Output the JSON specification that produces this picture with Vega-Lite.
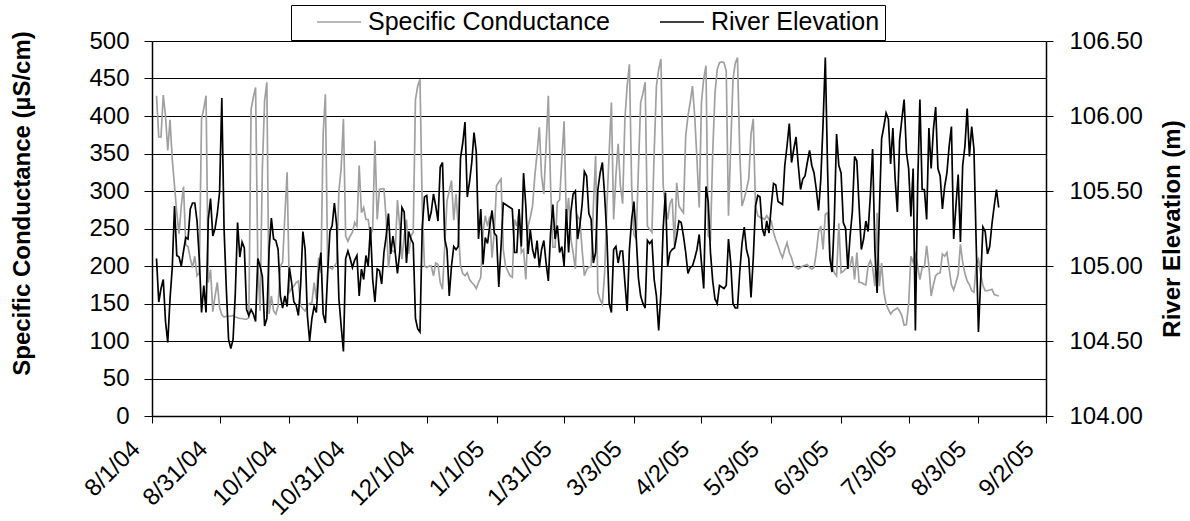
{
  "$schema": "https://vega.github.io/schema/vega-lite/v6.json",
  "width": 894,
  "height": 375,
  "autosize": {"type": "none"},
  "padding": {"left": 152, "top": 41, "right": 144, "bottom": 105},
  "background": "#ffffff",
  "config": {
    "font": "Liberation Sans",
    "view": {"stroke": null},
    "axis": {
      "labelFont": "Liberation Sans",
      "labelFontSize": 24,
      "labelColor": "#000000",
      "titleFont": "Liberation Sans",
      "titleFontSize": 24,
      "titleFontWeight": "bold",
      "titleColor": "#000000",
      "domainColor": "#000000",
      "domainWidth": 1.5,
      "tickColor": "#000000",
      "tickWidth": 1,
      "labelFlush": false,
      "labelOverlap": false
    },
    "legend": {"labelFont": "Liberation Sans"}
  },
  "data": {
    "values": [
      {"d": "2004-08-03", "c": 427, "e": 105.05},
      {"d": "2004-08-04", "c": 372, "e": 104.76},
      {"d": "2004-08-05", "c": 372, "e": 104.85},
      {"d": "2004-08-06", "c": 428, "e": 104.91},
      {"d": "2004-08-07", "c": 400, "e": 104.63},
      {"d": "2004-08-08", "c": 354, "e": 104.49},
      {"d": "2004-08-09", "c": 395, "e": 104.78},
      {"d": "2004-08-10", "c": 342, "e": 104.99},
      {"d": "2004-08-11", "c": 307, "e": 105.40},
      {"d": "2004-08-12", "c": 271, "e": 105.07},
      {"d": "2004-08-13", "c": 243, "e": 105.06},
      {"d": "2004-08-14", "c": 280, "e": 105.00},
      {"d": "2004-08-15", "c": 306, "e": 105.10},
      {"d": "2004-08-16", "c": 228, "e": 105.19},
      {"d": "2004-08-17", "c": 226, "e": 105.18},
      {"d": "2004-08-18", "c": 210, "e": 105.38},
      {"d": "2004-08-19", "c": 198, "e": 105.42},
      {"d": "2004-08-20", "c": 213, "e": 105.42},
      {"d": "2004-08-21", "c": 187, "e": 105.30},
      {"d": "2004-08-22", "c": 191, "e": 105.05},
      {"d": "2004-08-23", "c": 396, "e": 104.69},
      {"d": "2004-08-24", "c": 410, "e": 104.87},
      {"d": "2004-08-25", "c": 427, "e": 104.69},
      {"d": "2004-08-26", "c": 178, "e": 105.31},
      {"d": "2004-08-27", "c": 195, "e": 105.45},
      {"d": "2004-08-28", "c": 139, "e": 105.20},
      {"d": "2004-08-29", "c": 160, "e": 105.25},
      {"d": "2004-08-30", "c": 178, "e": 105.35},
      {"d": "2004-08-31", "c": 145, "e": 105.49},
      {"d": "2004-09-01", "c": 135, "e": 106.12},
      {"d": "2004-09-02", "c": 132, "e": 105.25},
      {"d": "2004-09-03", "c": 133, "e": 104.85},
      {"d": "2004-09-04", "c": 133, "e": 104.51},
      {"d": "2004-09-05", "c": 133, "e": 104.45},
      {"d": "2004-09-06", "c": 134, "e": 104.51},
      {"d": "2004-09-07", "c": 132, "e": 104.82},
      {"d": "2004-09-08", "c": 131, "e": 105.29},
      {"d": "2004-09-09", "c": 130, "e": 105.06},
      {"d": "2004-09-10", "c": 130, "e": 105.16},
      {"d": "2004-09-11", "c": 129, "e": 105.12},
      {"d": "2004-09-12", "c": 129, "e": 104.71},
      {"d": "2004-09-13", "c": 131, "e": 104.67},
      {"d": "2004-09-14", "c": 409, "e": 104.71},
      {"d": "2004-09-15", "c": 425, "e": 104.68},
      {"d": "2004-09-16", "c": 438, "e": 104.63},
      {"d": "2004-09-17", "c": 200, "e": 105.05},
      {"d": "2004-09-18", "c": 140, "e": 105.00},
      {"d": "2004-09-19", "c": 330, "e": 104.93},
      {"d": "2004-09-20", "c": 420, "e": 104.60},
      {"d": "2004-09-21", "c": 445, "e": 104.65},
      {"d": "2004-09-22", "c": 136, "e": 105.11},
      {"d": "2004-09-23", "c": 160, "e": 105.32},
      {"d": "2004-09-24", "c": 140, "e": 105.18},
      {"d": "2004-09-25", "c": 136, "e": 105.17},
      {"d": "2004-09-26", "c": 147, "e": 105.11},
      {"d": "2004-09-27", "c": 200, "e": 104.80},
      {"d": "2004-09-28", "c": 205, "e": 104.72},
      {"d": "2004-09-29", "c": 267, "e": 104.80},
      {"d": "2004-09-30", "c": 325, "e": 104.73},
      {"d": "2004-10-01", "c": 165, "e": 104.99},
      {"d": "2004-10-02", "c": 170, "e": 104.89},
      {"d": "2004-10-03", "c": 173, "e": 104.76},
      {"d": "2004-10-04", "c": 178, "e": 104.74},
      {"d": "2004-10-05", "c": 180, "e": 104.67},
      {"d": "2004-10-06", "c": 147, "e": 104.87},
      {"d": "2004-10-07", "c": 143, "e": 105.23},
      {"d": "2004-10-08", "c": 140, "e": 105.11},
      {"d": "2004-10-09", "c": 147, "e": 104.67},
      {"d": "2004-10-10", "c": 150, "e": 104.50},
      {"d": "2004-10-11", "c": 151, "e": 104.65},
      {"d": "2004-10-12", "c": 178, "e": 104.73},
      {"d": "2004-10-13", "c": 156, "e": 104.69},
      {"d": "2004-10-14", "c": 211, "e": 104.96},
      {"d": "2004-10-15", "c": 191, "e": 105.09},
      {"d": "2004-10-16", "c": 376, "e": 104.68},
      {"d": "2004-10-17", "c": 429, "e": 104.62},
      {"d": "2004-10-18", "c": 200, "e": 104.95},
      {"d": "2004-10-19", "c": 198, "e": 105.23},
      {"d": "2004-10-20", "c": 196, "e": 105.27},
      {"d": "2004-10-21", "c": 200, "e": 105.42},
      {"d": "2004-10-22", "c": 204, "e": 105.27},
      {"d": "2004-10-23", "c": 300, "e": 104.78},
      {"d": "2004-10-24", "c": 330, "e": 104.60},
      {"d": "2004-10-25", "c": 396, "e": 104.43},
      {"d": "2004-10-26", "c": 240, "e": 105.05},
      {"d": "2004-10-27", "c": 233, "e": 105.10},
      {"d": "2004-10-28", "c": 240, "e": 105.05},
      {"d": "2004-10-29", "c": 245, "e": 104.99},
      {"d": "2004-10-30", "c": 258, "e": 105.04},
      {"d": "2004-10-31", "c": 253, "e": 105.07},
      {"d": "2004-11-01", "c": 334, "e": 104.80},
      {"d": "2004-11-02", "c": 271, "e": 104.98},
      {"d": "2004-11-03", "c": 278, "e": 104.91},
      {"d": "2004-11-04", "c": 262, "e": 105.07},
      {"d": "2004-11-05", "c": 262, "e": 105.00},
      {"d": "2004-11-06", "c": 240, "e": 105.26},
      {"d": "2004-11-07", "c": 250, "e": 104.91},
      {"d": "2004-11-08", "c": 367, "e": 104.76},
      {"d": "2004-11-09", "c": 262, "e": 104.98},
      {"d": "2004-11-10", "c": 302, "e": 104.97},
      {"d": "2004-11-11", "c": 303, "e": 104.88},
      {"d": "2004-11-12", "c": 303, "e": 105.09},
      {"d": "2004-11-13", "c": 262, "e": 105.20},
      {"d": "2004-11-14", "c": 198, "e": 105.35},
      {"d": "2004-11-15", "c": 222, "e": 105.08},
      {"d": "2004-11-16", "c": 220, "e": 105.20},
      {"d": "2004-11-17", "c": 218, "e": 105.09},
      {"d": "2004-11-18", "c": 288, "e": 104.95},
      {"d": "2004-11-19", "c": 253, "e": 105.09},
      {"d": "2004-11-20", "c": 209, "e": 105.39},
      {"d": "2004-11-21", "c": 240, "e": 105.36},
      {"d": "2004-11-22", "c": 262, "e": 105.02},
      {"d": "2004-11-23", "c": 216, "e": 105.23},
      {"d": "2004-11-24", "c": 240, "e": 105.18},
      {"d": "2004-11-25", "c": 245, "e": 105.15},
      {"d": "2004-11-26", "c": 422, "e": 104.65},
      {"d": "2004-11-27", "c": 440, "e": 104.58},
      {"d": "2004-11-28", "c": 449, "e": 104.56},
      {"d": "2004-11-29", "c": 280, "e": 105.26},
      {"d": "2004-11-30", "c": 200, "e": 105.46},
      {"d": "2004-12-01", "c": 198, "e": 105.47},
      {"d": "2004-12-02", "c": 200, "e": 105.30},
      {"d": "2004-12-03", "c": 200, "e": 105.36},
      {"d": "2004-12-04", "c": 187, "e": 105.48},
      {"d": "2004-12-05", "c": 204, "e": 105.40},
      {"d": "2004-12-06", "c": 202, "e": 105.30},
      {"d": "2004-12-07", "c": 178, "e": 105.66},
      {"d": "2004-12-08", "c": 169, "e": 105.69},
      {"d": "2004-12-09", "c": 227, "e": 105.18},
      {"d": "2004-12-10", "c": 287, "e": 105.11},
      {"d": "2004-12-11", "c": 300, "e": 104.80},
      {"d": "2004-12-12", "c": 314, "e": 105.00},
      {"d": "2004-12-13", "c": 261, "e": 105.13},
      {"d": "2004-12-14", "c": 296, "e": 105.11},
      {"d": "2004-12-15", "c": 253, "e": 105.13},
      {"d": "2004-12-16", "c": 200, "e": 105.72},
      {"d": "2004-12-17", "c": 190, "e": 105.82},
      {"d": "2004-12-18", "c": 187, "e": 105.96},
      {"d": "2004-12-19", "c": 191, "e": 105.46},
      {"d": "2004-12-20", "c": 182, "e": 105.56},
      {"d": "2004-12-21", "c": 178, "e": 105.69},
      {"d": "2004-12-22", "c": 175, "e": 105.89},
      {"d": "2004-12-23", "c": 170, "e": 105.76},
      {"d": "2004-12-24", "c": 178, "e": 105.18},
      {"d": "2004-12-25", "c": 185, "e": 105.38},
      {"d": "2004-12-26", "c": 245, "e": 105.01},
      {"d": "2004-12-27", "c": 267, "e": 105.19},
      {"d": "2004-12-28", "c": 253, "e": 105.15},
      {"d": "2004-12-29", "c": 266, "e": 105.27},
      {"d": "2004-12-30", "c": 211, "e": 105.37},
      {"d": "2004-12-31", "c": 245, "e": 105.22},
      {"d": "2005-01-01", "c": 307, "e": 105.20},
      {"d": "2005-01-02", "c": 312, "e": 104.86},
      {"d": "2005-01-03", "c": 316, "e": 105.13},
      {"d": "2005-01-04", "c": 222, "e": 105.42},
      {"d": "2005-01-05", "c": 200, "e": 105.41},
      {"d": "2005-01-06", "c": 193, "e": 105.40},
      {"d": "2005-01-07", "c": 187, "e": 105.39},
      {"d": "2005-01-08", "c": 185, "e": 105.38},
      {"d": "2005-01-09", "c": 262, "e": 105.09},
      {"d": "2005-01-10", "c": 253, "e": 105.09},
      {"d": "2005-01-11", "c": 273, "e": 105.38},
      {"d": "2005-01-12", "c": 218, "e": 105.13},
      {"d": "2005-01-13", "c": 222, "e": 105.62},
      {"d": "2005-01-14", "c": 182, "e": 105.40},
      {"d": "2005-01-15", "c": 253, "e": 105.08},
      {"d": "2005-01-16", "c": 265, "e": 105.24},
      {"d": "2005-01-17", "c": 280, "e": 105.11},
      {"d": "2005-01-18", "c": 320, "e": 105.05},
      {"d": "2005-01-19", "c": 350, "e": 105.17},
      {"d": "2005-01-20", "c": 385, "e": 104.99},
      {"d": "2005-01-21", "c": 320, "e": 105.11},
      {"d": "2005-01-22", "c": 296, "e": 105.17},
      {"d": "2005-01-23", "c": 360, "e": 105.02},
      {"d": "2005-01-24", "c": 427, "e": 104.90},
      {"d": "2005-01-25", "c": 307, "e": 105.22},
      {"d": "2005-01-26", "c": 225, "e": 105.41},
      {"d": "2005-01-27", "c": 225, "e": 105.18},
      {"d": "2005-01-28", "c": 285, "e": 105.27},
      {"d": "2005-01-29", "c": 288, "e": 105.09},
      {"d": "2005-01-30", "c": 342, "e": 105.13},
      {"d": "2005-01-31", "c": 393, "e": 105.00},
      {"d": "2005-02-01", "c": 262, "e": 105.38},
      {"d": "2005-02-02", "c": 291, "e": 105.09},
      {"d": "2005-02-03", "c": 236, "e": 105.36},
      {"d": "2005-02-04", "c": 218, "e": 105.48},
      {"d": "2005-02-05", "c": 196, "e": 105.50},
      {"d": "2005-02-06", "c": 267, "e": 105.18},
      {"d": "2005-02-07", "c": 262, "e": 105.27},
      {"d": "2005-02-08", "c": 222, "e": 105.41},
      {"d": "2005-02-09", "c": 187, "e": 105.63},
      {"d": "2005-02-10", "c": 195, "e": 105.60},
      {"d": "2005-02-11", "c": 199, "e": 105.35},
      {"d": "2005-02-12", "c": 199, "e": 105.31},
      {"d": "2005-02-13", "c": 280, "e": 105.02},
      {"d": "2005-02-14", "c": 347, "e": 105.09},
      {"d": "2005-02-15", "c": 165, "e": 105.51},
      {"d": "2005-02-16", "c": 155, "e": 105.62},
      {"d": "2005-02-17", "c": 149, "e": 105.69},
      {"d": "2005-02-18", "c": 191, "e": 105.47},
      {"d": "2005-02-19", "c": 280, "e": 105.20},
      {"d": "2005-02-20", "c": 350, "e": 104.75},
      {"d": "2005-02-21", "c": 418, "e": 104.69},
      {"d": "2005-02-22", "c": 262, "e": 105.11},
      {"d": "2005-02-23", "c": 320, "e": 105.13},
      {"d": "2005-02-24", "c": 363, "e": 105.02},
      {"d": "2005-02-25", "c": 307, "e": 105.10},
      {"d": "2005-02-26", "c": 283, "e": 105.10},
      {"d": "2005-02-27", "c": 396, "e": 104.89},
      {"d": "2005-02-28", "c": 440, "e": 104.70},
      {"d": "2005-03-01", "c": 469, "e": 105.11},
      {"d": "2005-03-02", "c": 307, "e": 105.31},
      {"d": "2005-03-03", "c": 242, "e": 105.43},
      {"d": "2005-03-04", "c": 236, "e": 105.20},
      {"d": "2005-03-05", "c": 329, "e": 104.92},
      {"d": "2005-03-06", "c": 418, "e": 104.80},
      {"d": "2005-03-07", "c": 430, "e": 104.75},
      {"d": "2005-03-08", "c": 445, "e": 104.72},
      {"d": "2005-03-09", "c": 253, "e": 105.17},
      {"d": "2005-03-10", "c": 249, "e": 105.15},
      {"d": "2005-03-11", "c": 245, "e": 105.17},
      {"d": "2005-03-12", "c": 351, "e": 104.91},
      {"d": "2005-03-13", "c": 440, "e": 104.80},
      {"d": "2005-03-14", "c": 462, "e": 104.57},
      {"d": "2005-03-15", "c": 476, "e": 104.82},
      {"d": "2005-03-16", "c": 307, "e": 105.25},
      {"d": "2005-03-17", "c": 280, "e": 105.49},
      {"d": "2005-03-18", "c": 262, "e": 105.00},
      {"d": "2005-03-19", "c": 283, "e": 105.09},
      {"d": "2005-03-20", "c": 290, "e": 105.11},
      {"d": "2005-03-21", "c": 227, "e": 105.12},
      {"d": "2005-03-22", "c": 311, "e": 105.20},
      {"d": "2005-03-23", "c": 280, "e": 105.30},
      {"d": "2005-03-24", "c": 275, "e": 105.29},
      {"d": "2005-03-25", "c": 271, "e": 105.20},
      {"d": "2005-03-26", "c": 373, "e": 105.09},
      {"d": "2005-03-27", "c": 400, "e": 104.95},
      {"d": "2005-03-28", "c": 418, "e": 104.99},
      {"d": "2005-03-29", "c": 440, "e": 105.00},
      {"d": "2005-03-30", "c": 400, "e": 105.05},
      {"d": "2005-03-31", "c": 342, "e": 105.11},
      {"d": "2005-04-01", "c": 278, "e": 105.21},
      {"d": "2005-04-02", "c": 418, "e": 105.02},
      {"d": "2005-04-03", "c": 450, "e": 104.85},
      {"d": "2005-04-04", "c": 467, "e": 105.53},
      {"d": "2005-04-05", "c": 240, "e": 105.43},
      {"d": "2005-04-06", "c": 236, "e": 105.09},
      {"d": "2005-04-07", "c": 351, "e": 104.90},
      {"d": "2005-04-08", "c": 430, "e": 104.78},
      {"d": "2005-04-09", "c": 462, "e": 104.75},
      {"d": "2005-04-10", "c": 471, "e": 104.87},
      {"d": "2005-04-11", "c": 472, "e": 104.86},
      {"d": "2005-04-12", "c": 471, "e": 104.85},
      {"d": "2005-04-13", "c": 460, "e": 104.87},
      {"d": "2005-04-14", "c": 267, "e": 105.18},
      {"d": "2005-04-15", "c": 360, "e": 105.02},
      {"d": "2005-04-16", "c": 449, "e": 104.75},
      {"d": "2005-04-17", "c": 470, "e": 104.72},
      {"d": "2005-04-18", "c": 478, "e": 104.72},
      {"d": "2005-04-19", "c": 351, "e": 104.96},
      {"d": "2005-04-20", "c": 280, "e": 105.15},
      {"d": "2005-04-21", "c": 290, "e": 105.26},
      {"d": "2005-04-22", "c": 302, "e": 105.11},
      {"d": "2005-04-23", "c": 316, "e": 105.05},
      {"d": "2005-04-24", "c": 376, "e": 104.79},
      {"d": "2005-04-25", "c": 396, "e": 105.05},
      {"d": "2005-04-26", "c": 280, "e": 105.40},
      {"d": "2005-04-27", "c": 267, "e": 105.47},
      {"d": "2005-04-28", "c": 265, "e": 105.46},
      {"d": "2005-04-29", "c": 264, "e": 105.25},
      {"d": "2005-04-30", "c": 262, "e": 105.20},
      {"d": "2005-05-01", "c": 267, "e": 105.30},
      {"d": "2005-05-02", "c": 262, "e": 105.22},
      {"d": "2005-05-03", "c": 260, "e": 105.40},
      {"d": "2005-05-04", "c": 245, "e": 105.55},
      {"d": "2005-05-05", "c": 235, "e": 105.54},
      {"d": "2005-05-06", "c": 227, "e": 105.43},
      {"d": "2005-05-07", "c": 218, "e": 105.42},
      {"d": "2005-05-08", "c": 211, "e": 105.41},
      {"d": "2005-05-09", "c": 222, "e": 105.67},
      {"d": "2005-05-10", "c": 231, "e": 105.80},
      {"d": "2005-05-11", "c": 218, "e": 105.95},
      {"d": "2005-05-12", "c": 211, "e": 105.69},
      {"d": "2005-05-13", "c": 200, "e": 105.78},
      {"d": "2005-05-14", "c": 198, "e": 105.86},
      {"d": "2005-05-15", "c": 196, "e": 105.67},
      {"d": "2005-05-16", "c": 198, "e": 105.51},
      {"d": "2005-05-17", "c": 200, "e": 105.58},
      {"d": "2005-05-18", "c": 201, "e": 105.60},
      {"d": "2005-05-19", "c": 202, "e": 105.69},
      {"d": "2005-05-20", "c": 198, "e": 105.77},
      {"d": "2005-05-21", "c": 196, "e": 105.67},
      {"d": "2005-05-22", "c": 198, "e": 105.62},
      {"d": "2005-05-23", "c": 218, "e": 105.51},
      {"d": "2005-05-24", "c": 245, "e": 105.37},
      {"d": "2005-05-25", "c": 253, "e": 105.58},
      {"d": "2005-05-26", "c": 222, "e": 105.95},
      {"d": "2005-05-27", "c": 269, "e": 106.39},
      {"d": "2005-05-28", "c": 271, "e": 105.65},
      {"d": "2005-05-29", "c": 218, "e": 105.05},
      {"d": "2005-05-30", "c": 200, "e": 104.96},
      {"d": "2005-05-31", "c": 191, "e": 105.31},
      {"d": "2005-06-01", "c": 187, "e": 105.88},
      {"d": "2005-06-02", "c": 257, "e": 105.67},
      {"d": "2005-06-03", "c": 191, "e": 105.62},
      {"d": "2005-06-04", "c": 193, "e": 105.29},
      {"d": "2005-06-05", "c": 196, "e": 105.25},
      {"d": "2005-06-06", "c": 198, "e": 104.98},
      {"d": "2005-06-07", "c": 200, "e": 105.20},
      {"d": "2005-06-08", "c": 213, "e": 105.36},
      {"d": "2005-06-09", "c": 182, "e": 105.73},
      {"d": "2005-06-10", "c": 218, "e": 105.70},
      {"d": "2005-06-11", "c": 178, "e": 105.40},
      {"d": "2005-06-12", "c": 178, "e": 105.11},
      {"d": "2005-06-13", "c": 176, "e": 105.18},
      {"d": "2005-06-14", "c": 175, "e": 105.30},
      {"d": "2005-06-15", "c": 200, "e": 105.23},
      {"d": "2005-06-16", "c": 207, "e": 105.47},
      {"d": "2005-06-17", "c": 198, "e": 105.78},
      {"d": "2005-06-18", "c": 173, "e": 105.11},
      {"d": "2005-06-19", "c": 271, "e": 104.82},
      {"d": "2005-06-20", "c": 173, "e": 105.36},
      {"d": "2005-06-21", "c": 204, "e": 105.85},
      {"d": "2005-06-22", "c": 165, "e": 105.93},
      {"d": "2005-06-23", "c": 149, "e": 106.02},
      {"d": "2005-06-24", "c": 142, "e": 105.98},
      {"d": "2005-06-25", "c": 136, "e": 105.68},
      {"d": "2005-06-26", "c": 140, "e": 105.92},
      {"d": "2005-06-27", "c": 142, "e": 105.58},
      {"d": "2005-06-28", "c": 144, "e": 105.36},
      {"d": "2005-06-29", "c": 140, "e": 105.84},
      {"d": "2005-06-30", "c": 134, "e": 105.98},
      {"d": "2005-07-01", "c": 121, "e": 106.11},
      {"d": "2005-07-02", "c": 122, "e": 105.76},
      {"d": "2005-07-03", "c": 149, "e": 105.65},
      {"d": "2005-07-04", "c": 213, "e": 105.33},
      {"d": "2005-07-05", "c": 205, "e": 105.65},
      {"d": "2005-07-06", "c": 218, "e": 104.57},
      {"d": "2005-07-07", "c": 200, "e": 105.53},
      {"d": "2005-07-08", "c": 182, "e": 106.11},
      {"d": "2005-07-09", "c": 198, "e": 105.51},
      {"d": "2005-07-10", "c": 198, "e": 105.51},
      {"d": "2005-07-11", "c": 227, "e": 105.31},
      {"d": "2005-07-12", "c": 200, "e": 105.92},
      {"d": "2005-07-13", "c": 160, "e": 105.65},
      {"d": "2005-07-14", "c": 175, "e": 105.91},
      {"d": "2005-07-15", "c": 187, "e": 106.06},
      {"d": "2005-07-16", "c": 190, "e": 105.65},
      {"d": "2005-07-17", "c": 191, "e": 105.60},
      {"d": "2005-07-18", "c": 216, "e": 105.38},
      {"d": "2005-07-19", "c": 213, "e": 105.53},
      {"d": "2005-07-20", "c": 218, "e": 105.62},
      {"d": "2005-07-21", "c": 196, "e": 105.80},
      {"d": "2005-07-22", "c": 175, "e": 105.93},
      {"d": "2005-07-23", "c": 168, "e": 105.18},
      {"d": "2005-07-24", "c": 178, "e": 105.40},
      {"d": "2005-07-25", "c": 189, "e": 105.61},
      {"d": "2005-07-26", "c": 229, "e": 105.16},
      {"d": "2005-07-27", "c": 205, "e": 105.67},
      {"d": "2005-07-28", "c": 190, "e": 105.80},
      {"d": "2005-07-29", "c": 180, "e": 106.05},
      {"d": "2005-07-30", "c": 175, "e": 105.73},
      {"d": "2005-07-31", "c": 167, "e": 105.93},
      {"d": "2005-08-01", "c": 165, "e": 105.78},
      {"d": "2005-08-02", "c": 202, "e": 105.15},
      {"d": "2005-08-03", "c": 209, "e": 104.56},
      {"d": "2005-08-04", "c": 189, "e": 104.91},
      {"d": "2005-08-05", "c": 174, "e": 105.26},
      {"d": "2005-08-06", "c": 167, "e": 105.23},
      {"d": "2005-08-07", "c": 167, "e": 105.08},
      {"d": "2005-08-08", "c": 168, "e": 105.13},
      {"d": "2005-08-09", "c": 169, "e": 105.28},
      {"d": "2005-08-10", "c": 162, "e": 105.40},
      {"d": "2005-08-11", "c": 161, "e": 105.51},
      {"d": "2005-08-12", "c": 160, "e": 105.39}
    ]
  },
  "encoding": {
    "x": {
      "field": "d",
      "type": "temporal",
      "scale": {
        "type": "utc",
        "domain": [
          {"year": 2004, "month": 8, "date": 1, "utc": true},
          {"year": 2005, "month": 9, "date": 2, "utc": true}
        ]
      },
      "axis": {
        "title": null,
        "grid": false,
        "format": "%-m/%-d/%y",
        "values": [
          {"year": 2004, "month": 8, "date": 1, "utc": true},
          {"year": 2004, "month": 8, "date": 31, "utc": true},
          {"year": 2004, "month": 10, "date": 1, "utc": true},
          {"year": 2004, "month": 10, "date": 31, "utc": true},
          {"year": 2004, "month": 12, "date": 1, "utc": true},
          {"year": 2005, "month": 1, "date": 1, "utc": true},
          {"year": 2005, "month": 1, "date": 31, "utc": true},
          {"year": 2005, "month": 3, "date": 3, "utc": true},
          {"year": 2005, "month": 4, "date": 2, "utc": true},
          {"year": 2005, "month": 5, "date": 3, "utc": true},
          {"year": 2005, "month": 6, "date": 3, "utc": true},
          {"year": 2005, "month": 7, "date": 3, "utc": true},
          {"year": 2005, "month": 8, "date": 3, "utc": true},
          {"year": 2005, "month": 9, "date": 2, "utc": true}
        ],
        "labelAngle": -45,
        "labelAlign": "right",
        "labelBaseline": "middle",
        "labelOffset": -16,
        "labelPadding": 22,
        "labelBound": false,
        "tickSize": 7
      }
    }
  },
  "layer": [
    {
      "mark": {"type": "line", "strokeWidth": 1.7, "interpolate": "linear"},
      "encoding": {
        "y": {
          "field": "c",
          "type": "quantitative",
          "scale": {"domain": [0, 500], "nice": false, "zero": false},
          "axis": {
            "title": "Specific Conductance (µS/cm)",
            "values": [0, 50, 100, 150, 200, 250, 300, 350, 400, 450, 500],
            "grid": true,
            "gridColor": "#000000",
            "gridWidth": 1,
            "tickSize": 8,
            "labelPadding": 15,
            "titleAngle": -90,
            "titleBaseline": "middle",
            "titleAlign": "center",
            "titleX": -130,
            "titleY": 162
          }
        },
        "color": {
          "datum": "Specific Conductance",
          "type": "nominal",
          "scale": {
            "domain": ["Specific Conductance", "River Elevation"],
            "range": ["#a0a0a0", "#000000"]
          },
          "legend": {
            "title": null,
            "orient": "none",
            "direction": "horizontal",
            "legendX": 139,
            "legendY": -36,
            "symbolType": "stroke",
            "symbolSize": 1936,
            "symbolStrokeWidth": 1.6,
            "symbolOffset": 20,
            "clipHeight": 24,
            "labelFontSize": 25,
            "labelColor": "#000000",
            "labelLimit": 0,
            "labelOffset": 6,
            "columnPadding": 29,
            "padding": 5,
            "strokeColor": "#000000",
            "fillColor": "#ffffff"
          }
        }
      }
    },
    {
      "mark": {"type": "line", "strokeWidth": 1.7, "interpolate": "linear"},
      "encoding": {
        "y": {
          "field": "e",
          "type": "quantitative",
          "scale": {"domain": [104, 106.5], "nice": false, "zero": false},
          "axis": {
            "orient": "right",
            "title": "River Elevation (m)",
            "values": [104, 104.5, 105, 105.5, 106, 106.5],
            "format": ".2f",
            "grid": false,
            "tickSize": 7,
            "labelPadding": 16,
            "titleAngle": -90,
            "titleBaseline": "middle",
            "titleAlign": "center",
            "titleX": 126,
            "titleY": 187.5
          }
        },
        "color": {"datum": "River Elevation", "type": "nominal"}
      }
    }
  ],
  "resolve": {"scale": {"y": "independent"}, "axis": {"y": "independent"}}
}
